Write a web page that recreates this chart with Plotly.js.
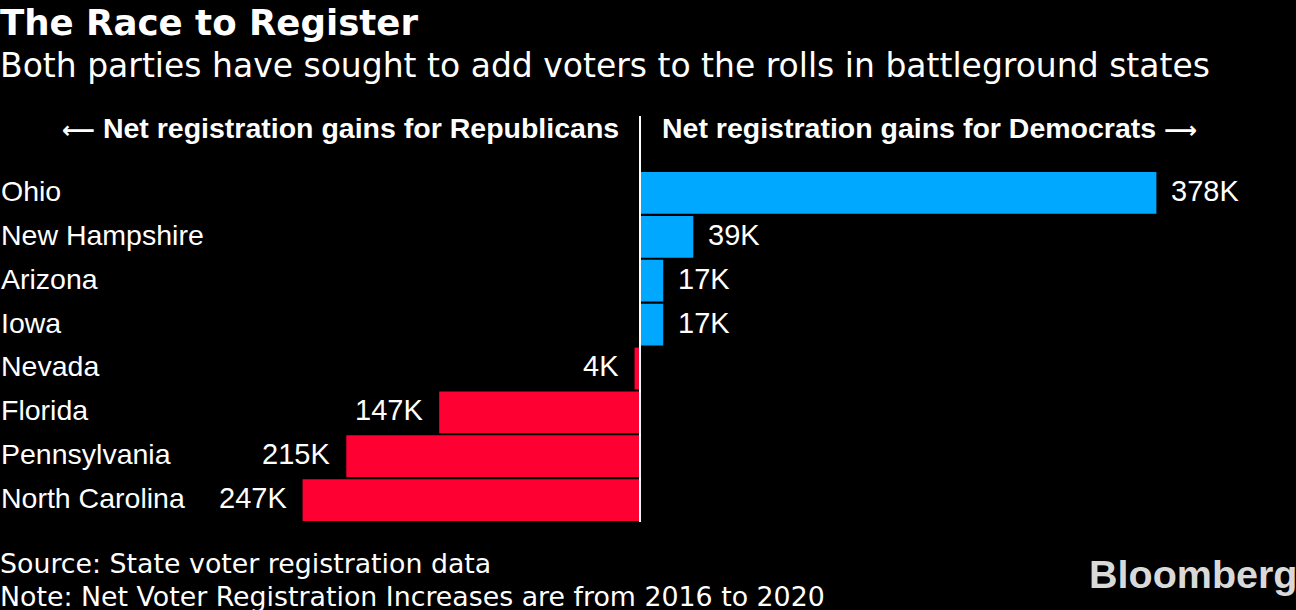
<!DOCTYPE html>
<html>
<head>
<meta charset="utf-8">
<script src="https://cdn.plot.ly/plotly-3.0.1.min.js"></script>
<style>
html,body{margin:0;padding:0;background:#000;}
#chart{width:1296px;height:610px;}
</style>
</head>
<body>
<div id="chart"></div>
<script>
// ---- Data ----
const states = ["Ohio", "New Hampshire", "Arizona", "Iowa", "Nevada", "Florida", "Pennsylvania", "North Carolina"];
const netGainK = [378, 39, 17, 17, -4, -147, -215, -247]; // + Democrats, - Republicans
const valueLabels = ["378K", "39K", "17K", "17K", "4K", "147K", "215K", "247K"];

const titleText = "The Race to Register";
const subtitleText = "Both parties have sought to add voters to the rolls in battleground states";
const leftHeader = "<span style=\"font-size:23px\">\u27F5</span> Net registration gains for Republicans";
const rightHeader = "Net registration gains for Democrats <span style=\"font-size:23px\">\u27F6</span>";
const sourceText = "Source: State voter registration data";
const noteText = "Note: Net Voter Registration Increases are from 2016 to 2020";

// ---- Layout helpers ----
const W = 1296, H = 610;
const M = {l: 0, r: 0, t: 171, b: 88};
const plotH = H - M.t - M.b;
const py = p => (H - M.b - p) / plotH; // pixel y -> paper y

const BLUE = "#00A9FF";
const RED = "#FF0033";
const colors = netGainK.map(v => v >= 0 ? BLUE : RED);

const trace = {
  type: "bar",
  orientation: "h",
  y: states,
  x: netGainK,
  marker: {color: colors, line: {width: 0}},
  hoverinfo: "none"
};

const annotations = [];
// category labels
states.forEach(s => {
  annotations.push({
    xref: "paper", yref: "y", x: 0, y: s, xanchor: "left", yanchor: "middle",
    xshift: -1, yshift: 2, text: s, showarrow: false,
    font: {family: "Liberation Sans, Arial, sans-serif", size: 28.5, color: "#ffffff"}
  });
});
// value labels
states.forEach((s, i) => {
  const v = netGainK[i];
  annotations.push({
    xref: "x", yref: "y", x: v, y: s,
    xanchor: v >= 0 ? "left" : "right", yanchor: "middle",
    xshift: v >= 0 ? 13 : -14, yshift: 2,
    text: valueLabels[i], showarrow: false,
    font: {family: "Liberation Sans, Arial, sans-serif", size: 29, color: "#ffffff"}
  });
});
// headers
annotations.push({
  xref: "x", yref: "paper", x: 0, y: py(128), xanchor: "right", yanchor: "middle",
  xshift: -19, text: leftHeader, showarrow: false,
  font: {family: "Liberation Sans, DejaVu Sans, sans-serif", size: 28.5, color: "#ffffff", weight: "bold"}
});
annotations.push({
  xref: "x", yref: "paper", x: 0, y: py(128), xanchor: "left", yanchor: "middle",
  xshift: 20, text: rightHeader, showarrow: false,
  font: {family: "Liberation Sans, DejaVu Sans, sans-serif", size: 28.5, color: "#ffffff", weight: "bold"}
});
// title & subtitle
annotations.push({
  xref: "paper", yref: "paper", x: 0, y: py(22), xanchor: "left", yanchor: "middle",
  xshift: -2, text: "<b>" + titleText + "</b>", showarrow: false,
  font: {family: "DejaVu Sans, sans-serif", size: 35.6, color: "#ffffff"}
});
annotations.push({
  xref: "paper", yref: "paper", x: 0, y: py(66), xanchor: "left", yanchor: "middle",
  xshift: -2, text: subtitleText, showarrow: false,
  font: {family: "DejaVu Sans, sans-serif", size: 33, color: "#ffffff"}
});
// footer
annotations.push({
  xref: "paper", yref: "paper", x: 0, y: py(563), xanchor: "left", yanchor: "middle",
  xshift: -2, text: sourceText, showarrow: false,
  font: {family: "DejaVu Sans, sans-serif", size: 26.8, color: "#ffffff"}
});
annotations.push({
  xref: "paper", yref: "paper", x: 0, y: py(596), xanchor: "left", yanchor: "middle",
  xshift: -2, text: noteText, showarrow: false,
  font: {family: "DejaVu Sans, sans-serif", size: 26.8, color: "#ffffff"}
});
// logo
annotations.push({
  xref: "paper", yref: "paper", x: 1, y: py(574), xanchor: "right", yanchor: "middle",
  xshift: 3, text: "<b>Bloomberg</b>", showarrow: false,
  font: {family: "Liberation Sans, Arial, sans-serif", size: 39.5, color: "#d9d9d9"}
});

const layout = {
  width: W, height: H,
  margin: M,
  paper_bgcolor: "#000000",
  plot_bgcolor: "#000000",
  showlegend: false,
  bargap: 0.05,
  xaxis: {range: [-468.5, 480.2], showgrid: false, zeroline: false, showticklabels: false, fixedrange: true},
  yaxis: {type: "category", autorange: "reversed", showgrid: false, zeroline: false, showticklabels: false, fixedrange: true},
  shapes: [{
    type: "line", xref: "x", yref: "paper", x0: 0, x1: 0, y0: 0, y1: py(116),
    line: {color: "#ffffff", width: 2}
  }],
  annotations: annotations
};

Plotly.newPlot("chart", [trace], layout, {displayModeBar: false, staticPlot: true});
</script>
</body>
</html>
